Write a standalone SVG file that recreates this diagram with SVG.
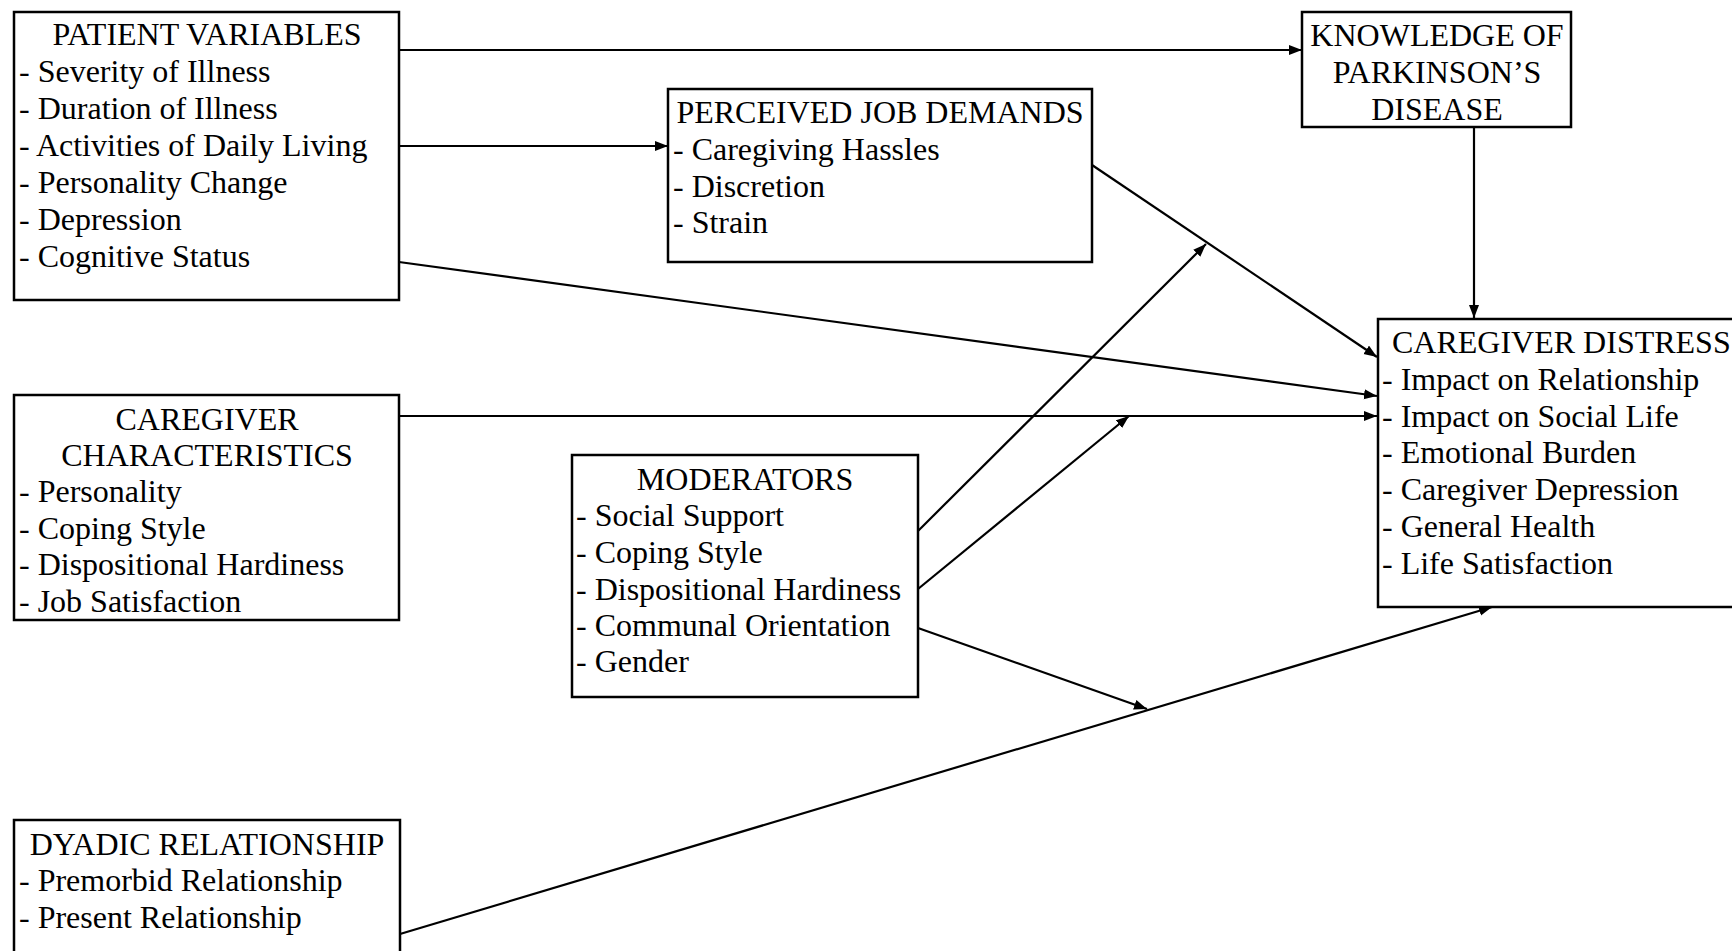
<svg xmlns="http://www.w3.org/2000/svg" width="1732" height="951" viewBox="0 0 1732 951">
  <style>
    .box { fill: #fff; stroke: #000; stroke-width: 2.5; }
    .t { font-family: "Liberation Serif", "Times New Roman", serif; font-size: 32px; fill: #000; }
    .c { text-anchor: middle; }
    .edge { fill: none; stroke: #000; stroke-width: 2.2; marker-end: url(#arrow); }
  </style>
  <defs>
    <marker id="arrow" markerUnits="userSpaceOnUse" markerWidth="14" markerHeight="12" refX="13" refY="5" orient="auto">
      <path d="M0,0 L13,5 L0,10 Z" fill="#000"/>
    </marker>
  </defs>
  <rect width="1732" height="951" fill="#fff"/>

  <!-- connectors -->
  <g id="connectors">
    <line class="edge" x1="399" y1="50" x2="1302" y2="50"/>
    <line class="edge" x1="399" y1="146" x2="668" y2="146"/>
    <line class="edge" x1="399" y1="262" x2="1377" y2="396"/>
    <line class="edge" x1="1092" y1="165" x2="1377" y2="357"/>
    <line class="edge" x1="1474" y1="127" x2="1474" y2="318"/>
    <line class="edge" x1="399" y1="416" x2="1377" y2="416"/>
    <line class="edge" x1="918" y1="531" x2="1206" y2="244"/>
    <line class="edge" x1="918" y1="589" x2="1129" y2="416"/>
    <line class="edge" x1="918" y1="628" x2="1147" y2="709"/>
    <line class="edge" x1="400" y1="934" x2="1492" y2="607"/>
  </g>

  <!-- patient variables -->
  <g id="patient">
    <rect class="box" x="14" y="12" width="385" height="288"/>
    <text class="t c" x="207" y="45">PATIENT VARIABLES</text>
    <text class="t" x="19" y="82">- Severity of Illness</text>
    <text class="t" x="19" y="119">- Duration of Illness</text>
    <text class="t" x="19" y="156">- Activities of Daily Living</text>
    <text class="t" x="19" y="193">- Personality Change</text>
    <text class="t" x="19" y="230">- Depression</text>
    <text class="t" x="19" y="267">- Cognitive Status</text>
  </g>

  <!-- perceived job demands -->
  <g id="job-demands">
    <rect class="box" x="668" y="89" width="424" height="173"/>
    <text class="t c" x="880" y="123">PERCEIVED JOB DEMANDS</text>
    <text class="t" x="673" y="160">- Caregiving Hassles</text>
    <text class="t" x="673" y="197">- Discretion</text>
    <text class="t" x="673" y="233">- Strain</text>
  </g>

  <!-- knowledge of parkinson's disease -->
  <g id="knowledge">
    <rect class="box" x="1302" y="12" width="269" height="115"/>
    <text class="t c" x="1437" y="46">KNOWLEDGE OF</text>
    <text class="t c" x="1437" y="83">PARKINSON’S</text>
    <text class="t c" x="1437" y="120">DISEASE</text>
  </g>

  <!-- caregiver distress -->
  <g id="distress">
    <rect class="box" x="1378" y="319" width="400" height="288"/>
    <text class="t" x="1392" y="353">CAREGIVER DISTRESS</text>
    <text class="t" x="1382" y="390">- Impact on Relationship</text>
    <text class="t" x="1382" y="427">- Impact on Social Life</text>
    <text class="t" x="1382" y="463">- Emotional Burden</text>
    <text class="t" x="1382" y="500">- Caregiver Depression</text>
    <text class="t" x="1382" y="537">- General Health</text>
    <text class="t" x="1382" y="574">- Life Satisfaction</text>
  </g>

  <!-- caregiver characteristics -->
  <g id="characteristics">
    <rect class="box" x="14" y="395" width="385" height="225"/>
    <text class="t c" x="207" y="430">CAREGIVER</text>
    <text class="t c" x="207" y="466">CHARACTERISTICS</text>
    <text class="t" x="19" y="502">- Personality</text>
    <text class="t" x="19" y="539">- Coping Style</text>
    <text class="t" x="19" y="575">- Dispositional Hardiness</text>
    <text class="t" x="19" y="612">- Job Satisfaction</text>
  </g>

  <!-- moderators -->
  <g id="moderators">
    <rect class="box" x="572" y="455" width="346" height="242"/>
    <text class="t c" x="745" y="490">MODERATORS</text>
    <text class="t" x="576" y="526">- Social Support</text>
    <text class="t" x="576" y="563">- Coping Style</text>
    <text class="t" x="576" y="600">- Dispositional Hardiness</text>
    <text class="t" x="576" y="636">- Communal Orientation</text>
    <text class="t" x="576" y="672">- Gender</text>
  </g>

  <!-- dyadic relationship -->
  <g id="dyadic">
    <rect class="box" x="14" y="820" width="386" height="200"/>
    <text class="t c" x="207" y="855">DYADIC RELATIONSHIP</text>
    <text class="t" x="19" y="891">- Premorbid Relationship</text>
    <text class="t" x="19" y="928">- Present Relationship</text>
  </g>
</svg>
